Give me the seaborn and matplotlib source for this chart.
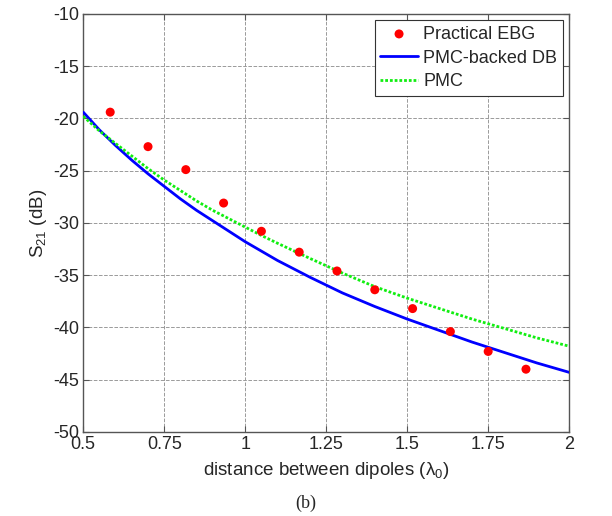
import numpy as np
import pandas as pd
import matplotlib
matplotlib.use("Agg")
import matplotlib.pyplot as plt
import seaborn as sns

# measured points (practical EBG)
ebg_x = [0.5833, 0.7, 0.8167, 0.9333, 1.05, 1.1667, 1.2833, 1.4, 1.5167, 1.6333, 1.75, 1.8667]
ebg_s21 = [-19.4, -22.7, -24.9, -28.1, -30.8, -32.8, -34.6, -36.4, -38.2, -40.4, -42.3, -44.0]

# simulated curves
curve_x = [0.5, 0.55, 0.6, 0.65, 0.7, 0.75, 0.8, 0.85, 0.9, 0.95, 1.0, 1.05, 1.1,
           1.2, 1.3, 1.4, 1.5, 1.6, 1.7, 1.8, 1.9, 2.0]
pmc_db_s21 = [-19.4, -21.1, -22.6, -24.0, -25.3, -26.5, -27.7, -28.8, -29.8, -30.8,
              -31.8, -32.7, -33.6, -35.2, -36.7, -38.0, -39.2, -40.3, -41.4, -42.4,
              -43.4, -44.3]
pmc_s21 = [-19.8, -21.2, -22.4, -23.6, -24.8, -25.9, -26.9, -27.9, -28.8, -29.6,
           -30.4, -31.2, -31.95, -33.4, -34.8, -36.1, -37.2, -38.2, -39.2, -40.1,
           -41.0, -41.8]

xticks = [0.5, 0.75, 1, 1.25, 1.5, 1.75, 2]
xtick_labels = ["0.5", "0.75", "1", "1.25", "1.5", "1.75", "2"]
yticks = [-50, -45, -40, -35, -30, -25, -20, -15, -10]

sns.set_style("whitegrid", {
    "grid.color": "#9a9a9a",
    "grid.linestyle": "--",
    "axes.edgecolor": "#555555",
    "xtick.direction": "in",
    "ytick.direction": "in",
})
plt.rcParams["font.family"] = ["Liberation Sans", "DejaVu Sans"]
plt.rcParams["axes.unicode_minus"] = False
plt.rcParams["mathtext.fontset"] = "custom"
plt.rcParams["mathtext.rm"] = "Liberation Sans"
plt.rcParams["mathtext.it"] = "Liberation Sans"

df_ebg = pd.DataFrame({"x": ebg_x, "y": ebg_s21})
df_curves = pd.DataFrame({"x": curve_x, "db": pmc_db_s21, "pmc": pmc_s21})

fig = plt.figure(figsize=(6.12, 5.16), dpi=100)
ax = fig.add_axes([0.136, 0.163, 0.794, 0.810])

sns.scatterplot(data=df_ebg, x="x", y="y", ax=ax, color="red", s=42,
                edgecolor="none", label="Practical EBG", zorder=4)
sns.lineplot(data=df_curves, x="x", y="db", ax=ax, color="blue", linewidth=2,
             label="PMC-backed DB", zorder=3)
sns.lineplot(data=df_curves, x="x", y="pmc", ax=ax, color="#11ee11", linewidth=2,
             linestyle=(0, (1.0, 0.7)), label="PMC", zorder=3)

ax.set_xlim(0.5, 2)
ax.set_ylim(-50, -10)
ax.set_xticks(xticks)
ax.set_xticklabels(xtick_labels)
ax.set_yticks(yticks)
ax.tick_params(labelsize=13, length=4, color="#555555", top=True, right=True,
               bottom=True, left=True, pad=3)
ax.grid(True, linewidth=0.7)
for s in ax.spines.values():
    s.set_linewidth(1)

ax.set_xlabel("distance between dipoles (λ$_0$)", fontsize=13.5, labelpad=5)
ax.set_ylabel("S$_{21}$ (dB)", fontsize=13.5, labelpad=3)

leg = ax.legend(loc="upper right", fontsize=13, frameon=True, fancybox=False,
                borderaxespad=0.35, handlelength=2.1, handletextpad=0.3,
                labelspacing=0.38, borderpad=0.3)
leg.get_frame().set_edgecolor("#333333")
leg.get_frame().set_linewidth(0.8)
leg.get_frame().set_alpha(1)

fig.text(0.5, 0.025, "(b)", ha="center", va="center", fontsize=13,
         family="Liberation Serif")

fig.savefig("out.png", dpi=100)
